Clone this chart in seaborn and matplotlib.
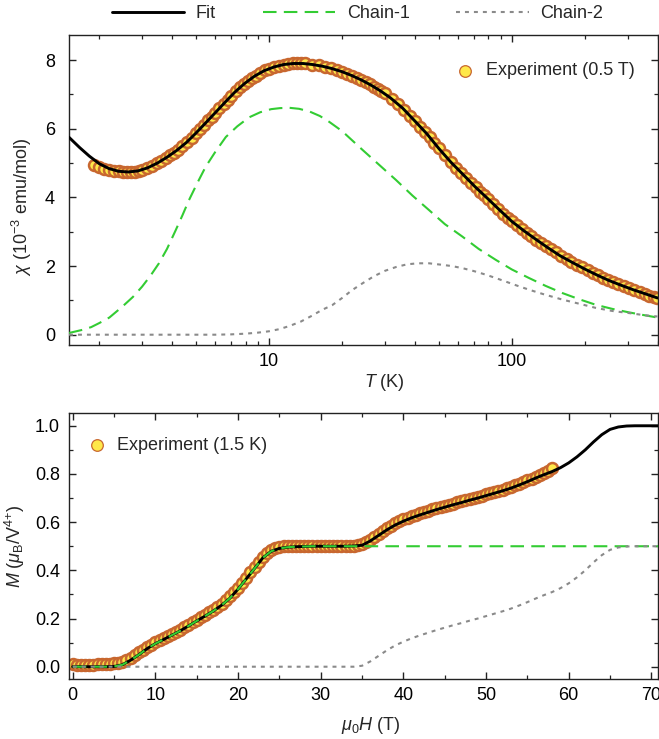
import matplotlib
matplotlib.use("Agg")
import matplotlib.pyplot as plt
from matplotlib.ticker import MultipleLocator, FixedLocator, FuncFormatter, NullFormatter
import seaborn as sns

# ---------------- susceptibility chi(T) at 0.5 T ----------------
T_fit = [1.50, 1.66, 1.82, 2.00, 2.19, 2.40, 2.63, 2.88, 3.16, 3.47, 3.80, 4.17,
         4.57, 5.01, 5.50, 6.03, 6.61, 7.24, 7.94, 8.71, 9.55, 10.5, 11.5, 12.6,
         13.8, 15.1, 16.6, 18.2, 20.0, 21.9, 24.0, 26.3, 28.8, 31.6, 35.5, 39.8,
         44.7, 50.1, 56.2, 63.1, 70.8, 79.4, 89.1, 100, 112, 126, 141, 158, 178,
         200, 224, 251, 282, 316, 355, 398]
chi_fit = [5.75, 5.45, 5.20, 4.98, 4.84, 4.76, 4.74, 4.77, 4.86, 5.00, 5.17, 5.37,
           5.60, 5.88, 6.18, 6.48, 6.78, 7.07, 7.32, 7.53, 7.69, 7.80, 7.87, 7.90,
           7.90, 7.87, 7.82, 7.75, 7.66, 7.55, 7.42, 7.27, 7.10, 6.90, 6.60, 6.23,
           5.85, 5.42, 5.02, 4.66, 4.30, 3.97, 3.63, 3.30, 3.03, 2.77, 2.53, 2.30,
           2.10, 1.91, 1.74, 1.58, 1.44, 1.31, 1.19, 1.07]

T_chain1 = [1.5, 1.7, 1.85, 2.0, 2.2, 2.49, 2.75, 3.0, 3.25, 3.52, 3.8, 4.13, 4.4,
            4.68, 5.05, 5.48, 6.0, 6.64, 7.4, 8.27, 9.2, 10.2, 11.1, 12.1, 13.3,
            14.7, 16.2, 17.7, 20.0, 24.3, 28.5, 33.3, 39.0, 45.6, 53.0, 62.5,
            73.0, 85.9, 100, 117.8, 138, 162, 190, 222, 260, 304, 350, 398]
chi_chain1 = [0.05, 0.14, 0.22, 0.34, 0.50, 0.82, 1.10, 1.40, 1.72, 2.08, 2.50,
              3.05, 3.48, 3.92, 4.40, 4.89, 5.32, 5.76, 6.07, 6.33, 6.48, 6.57,
              6.60, 6.61, 6.58, 6.50, 6.37, 6.20, 5.93, 5.38, 4.94, 4.51, 4.05,
              3.63, 3.22, 2.86, 2.50, 2.18, 1.90, 1.65, 1.42, 1.21, 1.03, 0.87,
              0.75, 0.65, 0.57, 0.50]

T_chain2 = [1.50, 2.0, 3.0, 4.0, 5.0, 6.0, 7.0, 8.0, 9.0, 10.0, 11.0, 12.1, 13.5,
            15.0, 16.5, 18.2, 20.0, 22.0, 24.3, 27.0, 30.0, 33.3, 37.0, 41.0, 45.6,
            51.0, 56.5, 62.5, 70.0, 78.0, 85.9, 95.0, 105, 117.8, 135, 162, 190,
            222, 260, 304, 350, 398]
chi_chain2 = [0.00, 0.00, 0.00, 0.00, 0.00, 0.00, 0.01, 0.03, 0.06, 0.10, 0.16, 0.25,
              0.38, 0.55, 0.72, 0.86, 1.07, 1.30, 1.50, 1.70, 1.86, 1.97, 2.05,
              2.08, 2.08, 2.04, 2.00, 1.94, 1.85, 1.75, 1.65, 1.54, 1.43, 1.31,
              1.18, 1.02, 0.90, 0.78, 0.69, 0.63, 0.57, 0.53]

T_exp = [1.9, 2.0, 2.1, 2.2, 2.3, 2.4, 2.5, 2.6, 2.7, 2.8, 2.9, 3.0, 3.15, 3.3,
         3.45, 3.6, 3.75, 3.9, 4.05, 4.2, 4.4, 4.6, 4.8, 5.0, 5.2, 5.4, 5.6, 5.8,
         6.0, 6.25, 6.5, 6.75, 7.0, 7.3, 7.6, 7.9, 8.2, 8.5, 8.8, 9.2, 9.6, 10,
         10.5, 11, 11.5, 12, 12.5, 13, 13.5, 14, 15, 16, 17, 18, 19, 20, 21, 22,
         23, 24, 25, 26, 27, 28, 29, 30, 32, 34, 36, 38, 40, 42, 44, 46, 48, 50,
         53, 56, 59, 62, 65, 68, 71, 74, 77, 80, 84, 88, 92, 96, 100, 105, 110,
         115, 120, 126, 132, 138, 145, 152, 160, 168, 176, 185, 195, 205, 215,
         226, 238, 250, 262, 275, 290, 305, 320, 336, 352, 368, 384, 398]
chi_exp = [4.93, 4.88, 4.84, 4.81, 4.78, 4.76, 4.75, 4.74, 4.74, 4.75, 4.77, 4.80,
           4.85, 4.92, 4.99, 5.07, 5.14, 5.22, 5.30, 5.38, 5.50, 5.62, 5.74, 5.87,
           6.00, 6.12, 6.24, 6.35, 6.46, 6.59, 6.72, 6.84, 6.96, 7.09, 7.21, 7.31,
           7.39, 7.47, 7.55, 7.63, 7.70, 7.75, 7.80, 7.84, 7.87, 7.89, 7.90, 7.90,
           7.90, 7.90, 7.87, 7.85, 7.81, 7.76, 7.71, 7.66, 7.60, 7.55, 7.48, 7.42,
           7.37, 7.29, 7.22, 7.15, 7.09, 7.03, 6.87, 6.72, 6.55, 6.37, 6.22, 6.06,
           5.90, 5.76, 5.59, 5.43, 5.22, 5.03, 4.86, 4.71, 4.55, 4.42, 4.29, 4.17,
           4.06, 3.95, 3.80, 3.66, 3.53, 3.41, 3.30, 3.19, 3.07, 2.97, 2.88, 2.77,
           2.68, 2.58, 2.49, 2.40, 2.29, 2.21, 2.12, 2.04, 1.96, 1.88, 1.81, 1.73,
           1.66, 1.60, 1.54, 1.48, 1.41, 1.35, 1.30, 1.24, 1.18, 1.14, 1.10, 1.06]

# ---------------- magnetization M(H) at 1.5 K ----------------
H_line = list(range(0, 72))
M_fit = [0.000, 0.000, 0.000, 0.000, 0.000, 0.001, 0.008, 0.027, 0.050, 0.075,
         0.096, 0.113, 0.131, 0.149, 0.169, 0.190, 0.210, 0.231, 0.255, 0.284,
         0.322, 0.365, 0.408, 0.452, 0.479, 0.491, 0.496, 0.498, 0.499, 0.500,
         0.500, 0.500, 0.500, 0.500, 0.501, 0.504, 0.522, 0.545, 0.568, 0.588,
         0.604, 0.618, 0.630, 0.641, 0.652, 0.662, 0.672, 0.681, 0.691, 0.700,
         0.710, 0.720, 0.730, 0.741, 0.754, 0.768, 0.783, 0.797, 0.810, 0.826,
         0.846, 0.871, 0.900, 0.933, 0.963, 0.985, 0.995, 0.999, 1.000, 1.000,
         1.000, 1.000]
M_chain1 = [0.000, 0.000, 0.000, 0.000, 0.000, 0.001, 0.008, 0.027, 0.050, 0.075,
            0.096, 0.113, 0.131, 0.149, 0.169, 0.190, 0.210, 0.231, 0.255, 0.284,
            0.322, 0.365, 0.408, 0.452, 0.479, 0.491, 0.496, 0.498, 0.499, 0.500,
            0.500, 0.500, 0.500, 0.500, 0.500, 0.500, 0.500, 0.500, 0.500, 0.500,
            0.500, 0.500, 0.500, 0.500, 0.500, 0.500, 0.500, 0.500, 0.500, 0.500,
            0.500, 0.500, 0.500, 0.500, 0.500, 0.500, 0.500, 0.500, 0.500, 0.500,
            0.500, 0.500, 0.500, 0.500, 0.500, 0.500, 0.500, 0.500, 0.500, 0.500,
            0.500, 0.500]
M_chain2 = [0.000] * 35 + [
            0.004, 0.022, 0.045, 0.068, 0.088, 0.104, 0.118, 0.130, 0.141, 0.152,
            0.162, 0.172, 0.181, 0.191, 0.200, 0.210, 0.220, 0.230, 0.241, 0.254,
            0.268, 0.283, 0.297, 0.310, 0.326, 0.346, 0.371, 0.400, 0.433, 0.463,
            0.485, 0.495, 0.499, 0.500, 0.500, 0.500, 0.500]

H_exp = [0.0, 0.5, 1.0, 1.5, 2.0, 2.5, 3.0, 3.5, 4.0, 4.5, 5.0, 5.5, 6.0, 6.5,
         7.0, 7.5, 8.0, 8.5, 9.0, 9.5, 10.0, 10.5, 11.0, 11.5, 12.0, 12.5, 13.0,
         13.5, 14.0, 14.5, 15.0, 15.5, 16.0, 16.5, 17.0, 17.5, 18.0, 18.5, 19.0,
         19.5, 20.0, 20.5, 21.0, 21.5, 22.0, 22.5, 23.0, 23.5, 24.0, 24.5, 25.0,
         25.5, 26.0, 26.5, 27.0, 27.5, 28.0, 28.5, 29.0, 29.5, 30.0, 30.5, 31.0,
         31.5, 32.0, 32.5, 33.0, 33.5, 34.0, 34.5, 35.0, 35.5, 36.0, 36.5, 37.0,
         37.5, 38.0, 38.5, 39.0, 39.5, 40.0, 40.5, 41.0, 41.5, 42.0, 42.5, 43.0,
         43.5, 44.0, 44.5, 45.0, 45.5, 46.0, 46.5, 47.0, 47.5, 48.0, 48.5, 49.0,
         49.5, 50.0, 50.5, 51.0, 51.5, 52.0, 52.5, 53.0, 53.5, 54.0, 54.5, 55.0,
         55.5, 56.0, 56.5, 57.0, 57.5, 58.0]
M_exp = [0.010, 0.009, 0.009, 0.009, 0.009, 0.009, 0.010, 0.010, 0.011, 0.012,
         0.014, 0.017, 0.021, 0.029, 0.038, 0.049, 0.060, 0.071, 0.082, 0.092,
         0.101, 0.110, 0.118, 0.127, 0.136, 0.145, 0.154, 0.164, 0.174, 0.184,
         0.195, 0.205, 0.215, 0.226, 0.237, 0.249, 0.262, 0.276, 0.292, 0.309,
         0.328, 0.349, 0.370, 0.392, 0.413, 0.436, 0.456, 0.472, 0.484, 0.492,
         0.497, 0.500, 0.502, 0.503, 0.503, 0.503, 0.503, 0.503, 0.503, 0.503,
         0.503, 0.503, 0.503, 0.503, 0.503, 0.503, 0.503, 0.503, 0.503, 0.504,
         0.508, 0.516, 0.527, 0.539, 0.551, 0.563, 0.575, 0.586, 0.596, 0.605,
         0.612, 0.619, 0.625, 0.631, 0.637, 0.642, 0.647, 0.653, 0.658, 0.663,
         0.668, 0.672, 0.677, 0.682, 0.686, 0.691, 0.696, 0.700, 0.705, 0.710,
         0.715, 0.720, 0.725, 0.730, 0.735, 0.741, 0.747, 0.753, 0.759, 0.766,
         0.774, 0.781, 0.789, 0.797, 0.805, 0.814, 0.824]

# ---------------- styling ----------------
sns.set_style("ticks")
plt.rcParams["font.family"] = ["Liberation Sans", "DejaVu Sans"]
plt.rcParams["mathtext.fontset"] = "custom"
plt.rcParams["mathtext.rm"] = "Liberation Sans"
plt.rcParams["mathtext.it"] = "Liberation Sans:italic"
plt.rcParams["mathtext.bf"] = "Liberation Sans:bold"
plt.rcParams["axes.linewidth"] = 1.0
plt.rcParams["axes.edgecolor"] = "#222222"

FS = 13
FIT_C = "black"
C1_C = "#33CC33"
C2_C = "#8A8A8A"
FACE_C = "#FFE84A"
EDGE_C = "#C8672F"
DASH_C1 = (0, (6.5, 3.5))
DOT_C2 = (0, (1.9, 2.4))
MS = 62
MEW = 1.8

fig = plt.figure(figsize=(6.59, 7.39), dpi=100)
W, H = 659, 739
ax1 = fig.add_axes([69 / W, 1 - 345 / H, 589 / W, 310 / H])
ax2 = fig.add_axes([69 / W, 1 - 679 / H, 589 / W, 266 / H])


def style_axes(ax, ypad):
    ax.tick_params(which="both", direction="in", top=True, right=True,
                   labelsize=FS, colors="#222222", labelcolor="black")
    ax.tick_params(which="major", length=5, width=1.0)
    ax.tick_params(which="minor", length=3, width=0.9)
    ax.tick_params(axis="y", pad=ypad)
    ax.tick_params(axis="x", pad=5.5)
    for s in ax.spines.values():
        s.set_visible(True)
        s.set_linewidth(1.0)


def thin_legend_marker(leg):
    # the key marker is drawn with a fine outline, unlike the dense data band
    for h in leg.legend_handles:
        h.set_linewidth(0.9)
        h.set_sizes([70])


# ---- top panel ----
sns.scatterplot(x=T_exp, y=chi_exp, s=MS, color=FACE_C, edgecolor=EDGE_C,
                linewidth=MEW, ax=ax1, zorder=2, label="Experiment (0.5 T)")
sns.lineplot(x=T_fit, y=chi_fit, color=FIT_C, lw=2.1, ax=ax1, zorder=3,
             sort=False, estimator=None, legend=False)
fit_line = ax1.lines[-1]
sns.lineplot(x=T_chain1, y=chi_chain1, color=C1_C, lw=1.5, ax=ax1, zorder=4,
             sort=False, estimator=None, legend=False)
c1_line = ax1.lines[-1]
c1_line.set_linestyle(DASH_C1)
sns.lineplot(x=T_chain2, y=chi_chain2, color=C2_C, lw=1.5, ax=ax1, zorder=5,
             sort=False, estimator=None, legend=False)
c2_line = ax1.lines[-1]
c2_line.set_linestyle(DOT_C2)

ax1.set_xscale("log")
ax1.set_xlim(1.5, 400)
ax1.set_ylim(-0.3, 8.73)
ax1.xaxis.set_major_locator(FixedLocator([10, 100]))
ax1.xaxis.set_major_formatter(FuncFormatter(lambda v, _: f"{v:g}"))
ax1.xaxis.set_minor_locator(FixedLocator([2, 3, 4, 5, 6, 7, 8, 9, 20, 30, 40, 50,
                                          60, 70, 80, 90, 200, 300, 400]))
ax1.xaxis.set_minor_formatter(NullFormatter())
ax1.yaxis.set_major_locator(MultipleLocator(2))
ax1.yaxis.set_minor_locator(MultipleLocator(1))
style_axes(ax1, 10)
ax1.set_xlabel(r"$T$ (K)", fontsize=FS)
ax1.set_ylabel(r"$\chi$ (10$^{-3}$ emu/mol)", fontsize=FS)
ax1.xaxis.set_label_coords(0.535, -0.088)
ax1.yaxis.set_label_coords(-0.06, 0.445)
leg1 = ax1.legend(loc="center right", bbox_to_anchor=(0.961, 0.884),
                  frameon=False, fontsize=FS, borderpad=0, borderaxespad=0,
                  handlelength=1.0, handletextpad=0.7)
thin_legend_marker(leg1)

# ---- bottom panel ----
sns.scatterplot(x=H_exp, y=M_exp, s=MS, color=FACE_C, edgecolor=EDGE_C,
                linewidth=MEW, ax=ax2, zorder=2, label="Experiment (1.5 K)")
sns.lineplot(x=H_line, y=M_fit, color=FIT_C, lw=2.1, ax=ax2, zorder=3,
             sort=False, estimator=None, legend=False)
sns.lineplot(x=H_line, y=M_chain1, color=C1_C, lw=1.5, ax=ax2, zorder=4,
             sort=False, estimator=None, legend=False)
ax2.lines[-1].set_linestyle(DASH_C1)
sns.lineplot(x=H_line, y=M_chain2, color=C2_C, lw=1.5, ax=ax2, zorder=5,
             sort=False, estimator=None, legend=False)
ax2.lines[-1].set_linestyle(DOT_C2)

ax2.set_xlim(-0.45, 70.8)
ax2.set_ylim(-0.051, 1.053)
ax2.xaxis.set_major_locator(MultipleLocator(10))
ax2.xaxis.set_minor_locator(MultipleLocator(5))
ax2.yaxis.set_major_locator(MultipleLocator(0.2))
ax2.yaxis.set_minor_locator(MultipleLocator(0.1))
ax2.yaxis.set_major_formatter(FuncFormatter(lambda v, _: f"{v:.1f}"))
style_axes(ax2, 6.5)
ax2.set_xlabel(r"$\mu_0H$ (T)", fontsize=FS)
ax2.set_ylabel(r"$M$ ($\mu_{\rm B}$/V$^{4{+}}$)", fontsize=FS)
ax2.xaxis.set_label_coords(0.513, -0.135)
ax2.yaxis.set_label_coords(-0.072, 0.5)
leg2 = ax2.legend(loc="center left", bbox_to_anchor=(0.032, 0.877),
                  frameon=False, fontsize=FS, borderpad=0, borderaxespad=0,
                  handlelength=1.0, handletextpad=0.6)
thin_legend_marker(leg2)

# shared key for the fit and its two chain components
fig.legend(handles=[fit_line, c1_line, c2_line],
           labels=["Fit", "Chain-1", "Chain-2"],
           loc="center", bbox_to_anchor=(357.5 / W, 1 - 14 / H), ncol=3,
           frameon=False, fontsize=FS, handlelength=4.0, handletextpad=0.65,
           columnspacing=2.6, borderpad=0)

fig.savefig("out.png", dpi=100)
